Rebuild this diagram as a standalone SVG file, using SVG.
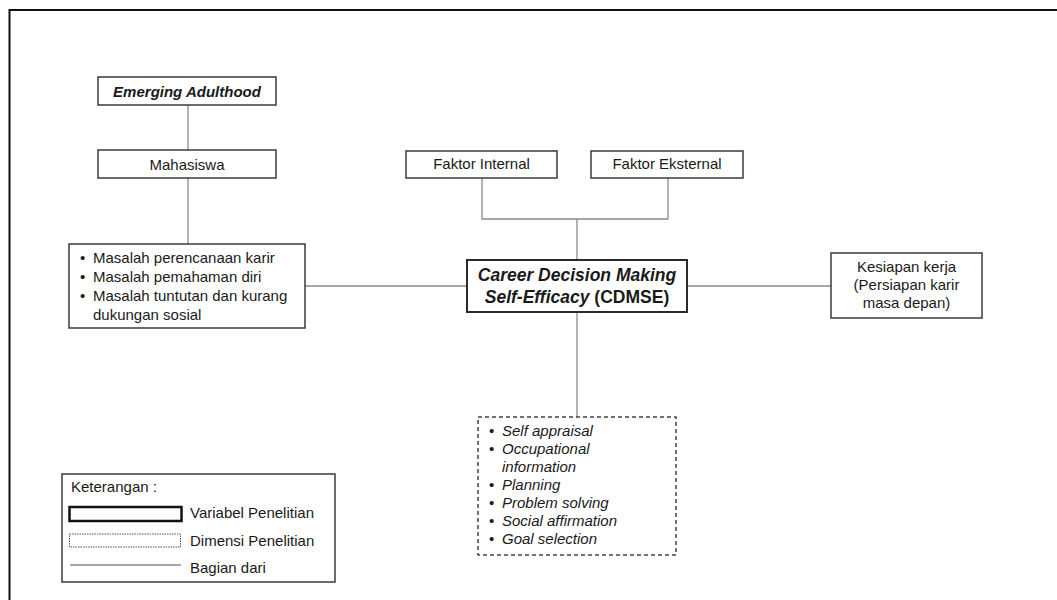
<svg xmlns="http://www.w3.org/2000/svg" width="1057" height="600" viewBox="0 0 1057 600">
<style>
text{font-family:"Liberation Sans",Arial,sans-serif;font-size:15px;fill:#1a1a1a}
.c{text-anchor:middle}
.bi{font-weight:bold;font-style:italic}
.i{font-style:italic}
.box{fill:#fff;stroke:#3a3a3a;stroke-width:1.5}
.var{fill:#fff;stroke:#2a2a2a;stroke-width:2}
.dash{fill:#fff;stroke:#444;stroke-width:1.5;stroke-dasharray:4 3}
.ln{fill:none;stroke:#8a8a8a;stroke-width:1.3}
</style>
<rect width="1057" height="600" fill="#fff"/>
<rect x="9.5" y="10" width="1100" height="700" fill="none" stroke="#111" stroke-width="2"/>
<g id="connectors">
<line class="ln" x1="188" y1="105" x2="188" y2="150"/>
<line class="ln" x1="188" y1="178" x2="188" y2="244"/>
<line class="ln" x1="305" y1="286" x2="467" y2="286"/>
<polyline class="ln" points="482,178 482,219 668,219 668,178"/>
<line class="ln" x1="577" y1="219" x2="577" y2="260"/>
<line class="ln" x1="687" y1="286" x2="831" y2="286"/>
<line class="ln" x1="577" y1="312" x2="577" y2="417"/>
</g>
<g id="emerging">
<rect class="box" x="98" y="77" width="178" height="28"/>
<text class="c bi" x="187" y="97">Emerging Adulthood</text>
</g>
<g id="mahasiswa">
<rect class="box" x="98" y="150" width="178" height="28"/>
<text class="c" x="187" y="170">Mahasiswa</text>
</g>
<g id="masalah">
<rect class="box" x="69" y="244" width="236" height="84"/>
<text x="80" y="263">•</text><text x="93" y="263">Masalah perencanaan karir</text>
<text x="80" y="282">•</text><text x="93" y="282">Masalah pemahaman diri</text>
<text x="80" y="301">•</text><text x="93" y="301">Masalah tuntutan dan kurang</text>
<text x="93" y="320">dukungan sosial</text>
</g>
<g id="internal">
<rect class="box" x="406" y="151" width="151" height="27"/>
<text class="c" x="481.5" y="169">Faktor Internal</text>
</g>
<g id="eksternal">
<rect class="box" x="591" y="151" width="152" height="27"/>
<text class="c" x="667" y="169">Faktor Eksternal</text>
</g>
<g id="cdmse">
<rect class="var" x="467" y="260" width="220" height="52"/>
<text class="c bi" x="577" y="281" style="font-size:17.5px">Career Decision Making</text>
<text class="c" x="577" y="303" style="font-size:17.5px;font-weight:bold"><tspan font-style="italic">Self-Efficacy</tspan> (CDMSE)</text>
</g>
<g id="kesiapan">
<rect class="box" x="831" y="253" width="151" height="65"/>
<text class="c" x="906.5" y="272">Kesiapan kerja</text>
<text class="c" x="906.5" y="290">(Persiapan karir</text>
<text class="c" x="906.5" y="308">masa depan)</text>
</g>
<g id="dimensi">
<rect class="dash" x="478" y="417" width="198" height="138"/>
<text x="489" y="436">•</text><text class="i" x="502" y="436">Self appraisal</text>
<text x="489" y="454">•</text><text class="i" x="502" y="454">Occupational</text>
<text class="i" x="502" y="472">information</text>
<text x="489" y="490">•</text><text class="i" x="502" y="490">Planning</text>
<text x="489" y="508">•</text><text class="i" x="502" y="508">Problem solving</text>
<text x="489" y="526">•</text><text class="i" x="502" y="526">Social affirmation</text>
<text x="489" y="544">•</text><text class="i" x="502" y="544">Goal selection</text>
</g>
<g id="legend">
<rect class="box" x="62" y="474" width="273" height="108"/>
<text x="71" y="492">Keterangan :</text>
<rect x="69.5" y="507" width="112" height="14" fill="#fff" stroke="#111" stroke-width="2.5"/>
<text x="190" y="518">Variabel Penelitian</text>
<rect x="69.5" y="534" width="111" height="13" fill="#fff" stroke="#555" stroke-width="1" stroke-dasharray="1.5 1"/>
<text x="190" y="546">Dimensi Penelitian</text>
<line class="ln" x1="70" y1="565" x2="181" y2="565"/>
<text x="190" y="573">Bagian dari</text>
</g>
</svg>
